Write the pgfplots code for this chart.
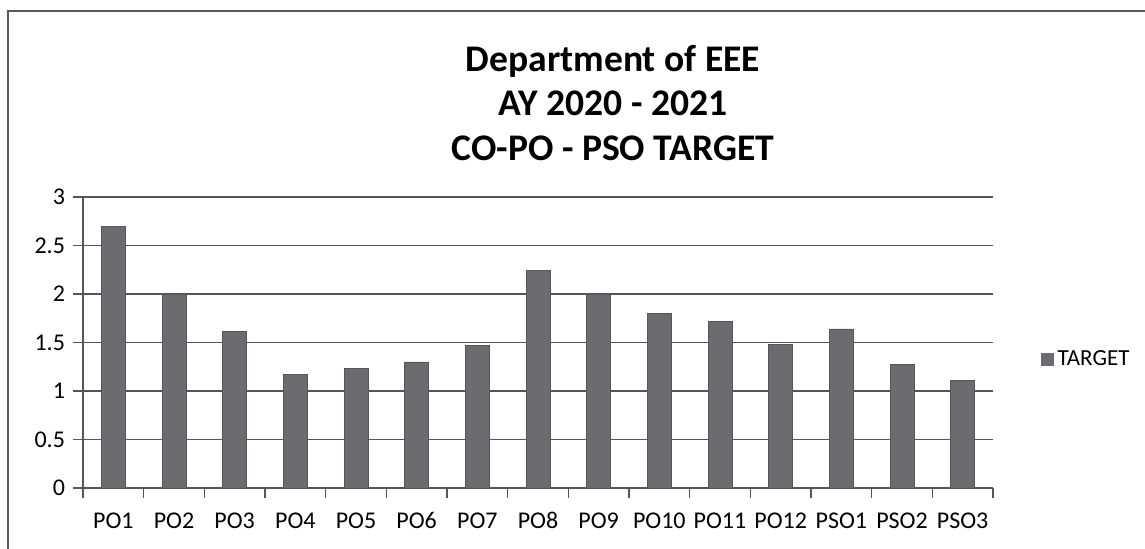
\documentclass[border=0pt]{standalone}
\usepackage{pgfplots}
\pgfplotsset{compat=1.18}
\usepackage{fontspec}
\setmainfont{Carlito}
\definecolor{barcol}{RGB}{108,108,112}
\definecolor{gridcol}{RGB}{85,85,85}
\begin{document}
\begin{tikzpicture}
\useasboundingbox (0,0) rectangle (572.5bp,274.5bp);
\fill[white] (0,0) rectangle (572.5bp,274.5bp);
\draw[gray!70!black, line width=0.6bp] (4bp,0) -- (4bp,269bp) -- (572.5bp,269bp);
\node[font=\fontsize{18.8bp}{22.2bp}\selectfont\bfseries, align=center] at (306.5bp,223bp)
  {Department of EEE\\AY 2020 - 2021\\CO-PO - PSO TARGET};
\begin{axis}[
  at={(41.5bp,30.5bp)}, anchor=south west,
  scale only axis, width=455bp, height=145.5bp,
  xmin=-0.5, xmax=14.5, ymin=0, ymax=3,
  axis x line=bottom, axis y line=left,
  axis line style={-, gridcol, line width=0.8bp},
  xtick={0,...,14},
  xticklabels={PO1,PO2,PO3,PO4,PO5,PO6,PO7,PO8,PO9,PO10,PO11,PO12,PSO1,PSO2,PSO3},
  minor xtick={-0.5,0.5,...,14.5},
  major x tick style={draw=none},
  minor x tick style={gridcol, line width=0.8bp},
  minor tick length=5bp,
  tick align=outside,
  ytick={0,0.5,...,3},
  major y tick style={gridcol, line width=0.8bp},
  major tick length=5bp,
  yticklabels={0,0.5,1,1.5,2,2.5,3},
  ymajorgrids,
  grid style={gridcol, line width=0.8bp},
  tick label style={font=\fontsize{12bp}{14bp}\selectfont, black},
  xticklabel style={yshift=-3bp, text height=8.6bp, text depth=0.5bp},
  yticklabel style={xshift=-0.5bp},
  /pgf/number format/assume math mode=true,
  legend style={at={(1.052,0.443)}, anchor=west, draw=none, fill=none, inner sep=0pt,
    font=\fontsize{11.5bp}{14bp}\selectfont},
  legend image code/.code={\fill[barcol] (0bp,-3bp) rectangle (6bp,3bp);},
]
\addplot[ybar, bar width=12bp, fill=barcol, draw=barcol!80!black] coordinates {
  (0,2.70) (1,2.00) (2,1.61) (3,1.17) (4,1.23) (5,1.30) (6,1.47) (7,2.24)
  (8,2.00) (9,1.80) (10,1.72) (11,1.48) (12,1.64) (13,1.27) (14,1.11)
};
\addlegendentry{TARGET}
\end{axis}
\end{tikzpicture}
\end{document}
